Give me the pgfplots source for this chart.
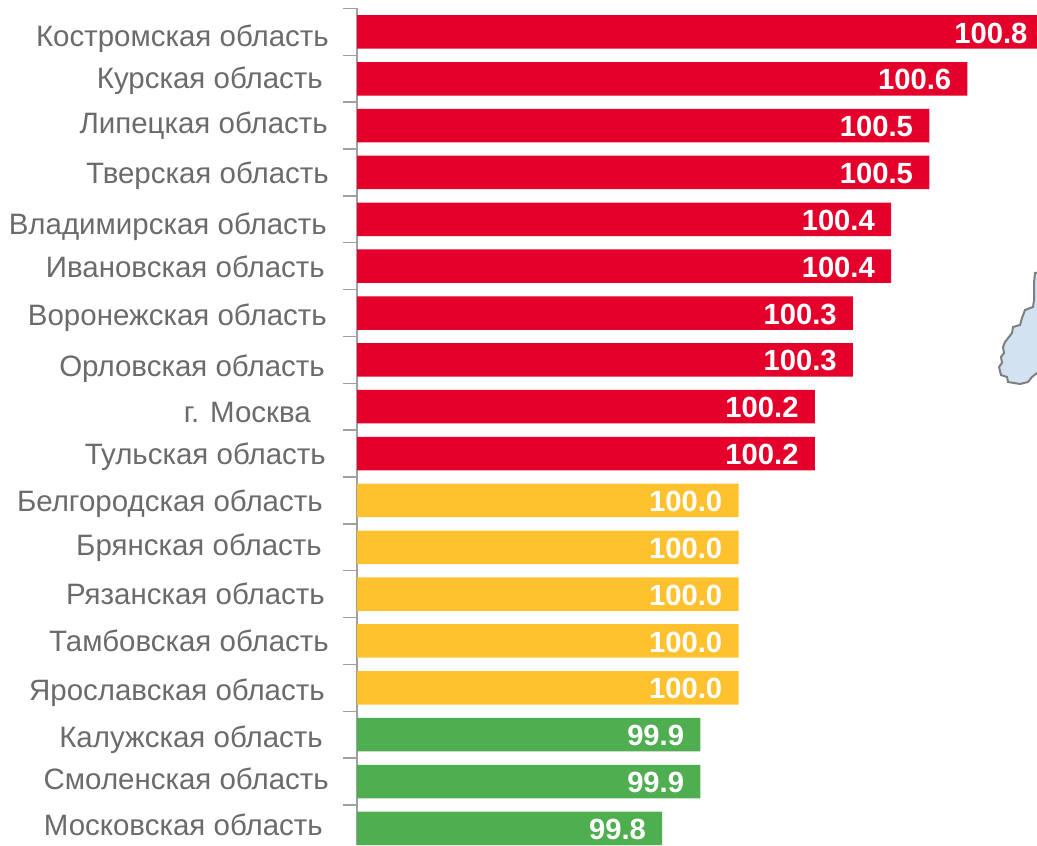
\documentclass[border=0pt]{standalone}
\usepackage{pgfplots}
\pgfplotsset{compat=1.18}
\usepackage{fontspec}
\setmainfont{Liberation Sans}
\definecolor{barred}{HTML}{E4002B}
\definecolor{baramber}{HTML}{FFC22E}
\definecolor{bargreen}{HTML}{4FAF50}
\definecolor{labgray}{HTML}{6B6B6B}
\definecolor{axgray}{HTML}{A0A0A0}
\definecolor{mapfill}{HTML}{D3E2F1}
\definecolor{mapline}{HTML}{7F7F7F}
\newlength\pxl
\setlength\pxl{0.75pt}
\newcommand\yl[3]{\raisebox{#2\pxl}[0pt][0pt]{#1\hspace{#3\pxl}}}
\begin{document}
\begin{tikzpicture}
\path[use as bounding box] (0,0) rectangle (777.75pt,633.75pt);
\begin{scope}[x=0.75pt,y=-0.75pt,shift={(0pt,633.75pt)}]
\filldraw[fill=mapfill,draw=mapline,line width=1.5pt]
(1035,273)--(1034,283)--(1034,293)--(1034,300)--(1033,307)--(1025,310)--(1022,318)--(1020,325)
--(1013,327)--(1012,333)--(1005,342)--(1003,347)--(1004,353)--(1001,357)--(1002,363)--(999,367)
--(1001,375)--(1007,377)--(1008,382)--(1020,384)--(1028,382)--(1032,377)--(1037,373)--(1040,373)--(1040,273)--cycle;
\end{scope}
\begin{axis}[
  at={(267.75pt,0pt)}, anchor=south west,
  scale only axis, width=543.64pt, height=627.375pt,
  xmin=99, xmax=100.9,
  ymin=-0.5, ymax=17.355, y dir=reverse,
  axis x line=none, axis y line*=left,
  axis line style={axgray,line width=1.1pt,-},
  xbar, bar width=25.1pt, bar shift=0pt,
  ytick={0,1,...,17},
  minor ytick={-0.5,0.5,...,16.5},
  major tick length=0pt, minor tick length=10.5pt,
  tick align=outside,
  every minor tick/.style={axgray,line width=1.1pt},
  yticklabel style={font=\fontsize{22.1pt}{24pt}\selectfont,text=labgray,inner sep=0pt,anchor=east},
  yticklabels={
   {\yl{Костромская область}{-14.1}{28}},
   {\yl{Курская область}{-9.25}{34}},
   {\yl{Липецкая область}{-7.4}{29}},
   {\yl{Тверская область}{-10.55}{28}},
   {\yl{Владимирская область}{-14.7}{30}},
   {\yl{Ивановская область}{-10.85}{32}},
   {\yl{Воронежская область}{-12}{30}},
   {\yl{Орловская область}{-16.15}{32}},
   {\yl{г. Москва}{-15.3}{46}},
   {\yl{Тульская область}{-10.45}{31}},
   {\yl{Белгородская область}{-10.6}{34}},
   {\yl{Брянская область}{-7.75}{35}},
   {\yl{Рязанская область}{-9.9}{32}},
   {\yl{Тамбовская область}{-10.05}{28}},
   {\yl{Ярославская область}{-12.2}{32}},
   {\yl{Калужская область}{-12.35}{34}},
   {\yl{Смоленская область}{-7.5}{28}},
   {\yl{Московская область}{-6.65}{34}}},
  nodes near coords,
  point meta=x,
  every node near coord/.append style={anchor=east,text=white,inner sep=0pt,
    xshift=-12pt,yshift=-0.8pt,font=\fontsize{21.9pt}{24pt}\selectfont\bfseries,
    /pgf/number format/fixed,/pgf/number format/fixed zerofill,/pgf/number format/precision=1,
    /pgf/number format/assume math mode=true},
]
\addplot[draw=none,fill=barred] coordinates {(100.8,0)(100.6,1)(100.5,2)(100.5,3)(100.4,4)(100.4,5)(100.3,6)(100.3,7)(100.2,8)(100.2,9)};
\addplot[draw=none,fill=baramber] coordinates {(100.0,10)(100.0,11)(100.0,12)(100.0,13)(100.0,14)};
\addplot[draw=none,fill=bargreen] coordinates {(99.9,15)(99.9,16)(99.8,17)};
\end{axis}
\end{tikzpicture}
\end{document}
